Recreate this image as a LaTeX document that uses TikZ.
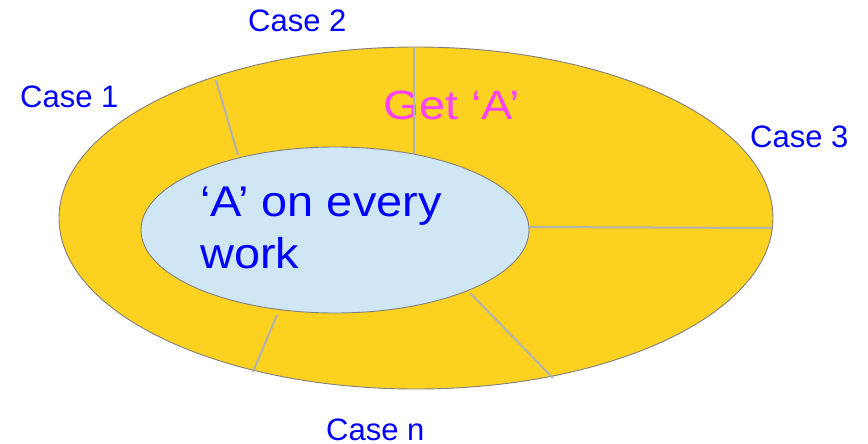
\documentclass[tikz,border=0pt]{standalone}
\usepackage{fontspec}
\setmainfont{Liberation Sans}
\usetikzlibrary{shapes.geometric}
\definecolor{ringyellow}{HTML}{FDD120}
\definecolor{paleblue}{HTML}{CFE7F5}
\definecolor{edgegrey}{HTML}{808080}
\definecolor{divgrey}{HTML}{B2B2B2}
\definecolor{textblue}{HTML}{0000FF}
\definecolor{textmag}{HTML}{FF40FF}
\begin{document}
\begin{tikzpicture}[x=1pt,y=-1pt,
  ring/.style={ellipse, draw=edgegrey, line width=0.9pt, inner sep=0pt},
  divider/.style={draw=divgrey, line width=2pt},
  caselabel/.style={anchor=base west, inner sep=0pt, text=textblue, font=\fontsize{31}{36}\selectfont}]
\useasboundingbox (0,0) rectangle (868,444);
\node[ring, fill=ringyellow, minimum width=714pt, minimum height=342pt] (outer) at (416,218) {};
\node[ring, fill=paleblue, minimum width=388pt, minimum height=166pt] (inner) at (335,230) {};
\node[anchor=base west, inner sep=0pt, text=textmag, xscale=1.14, transform shape, font=\fontsize{41}{48}\selectfont] (get) at (383,120) {Get ‘A’};
\node[anchor=north west, inner sep=0pt, text=textblue, align=left, xscale=1.09, transform shape, font=\fontsize{43}{52}\selectfont] (every) at (200,186.5) {‘A’ on every\\work};
\node[caselabel] (c1) at (20,107) {Case 1};
\node[caselabel] (c2) at (248,32) {Case 2};
\node[caselabel] (c3) at (750,147) {Case 3};
\node[caselabel] (cn) at (326,440) {Case n};
\coordinate (o1) at (216,80);  \coordinate (i1) at (238,155);
\coordinate (o2) at (414,47);  \coordinate (i2) at (414,154);
\coordinate (o3) at (772,228); \coordinate (i3) at (529,227);
\coordinate (o4) at (553,378); \coordinate (i4) at (470,293);
\coordinate (o5) at (253,372); \coordinate (i5) at (277,315);
\draw[divider] (o1) -- (i1);
\draw[divider] (o2) -- (i2);
\draw[divider] (i3) -- (o3);
\draw[divider] (i4) -- (o4);
\draw[divider] (i5) -- (o5);
\end{tikzpicture}
\end{document}
